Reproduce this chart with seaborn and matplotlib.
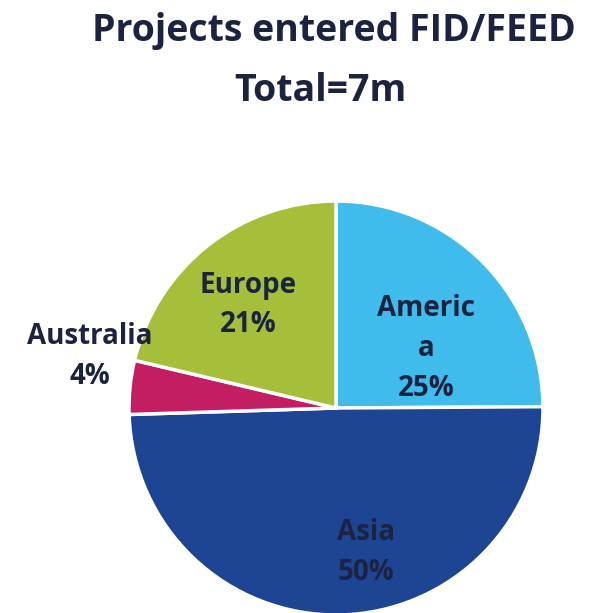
import matplotlib
matplotlib.use("Agg")
import matplotlib.pyplot as plt
import seaborn as sns

regions = ["America", "Asia", "Australia", "Europe"]
shares = [24.9, 49.6, 4.2, 21.3]
pct_labels = ["25%", "50%", "4%", "21%"]
name_labels = ["Americ\na", "Asia", "Australia", "Europe"]
colors = ["#3FBCEB", "#1E4594", "#C41E63", "#A5BF3A"]

sns.set_theme(style="white")
plt.rcParams['font.family'] = ['Open Sans', 'DejaVu Sans']

W, H = 591, 613
fig = plt.figure(figsize=(W / 100, H / 100), dpi=100)
fig.patch.set_facecolor("white")

cx, cy, r = 336, 408, 207
ax = fig.add_axes([(cx - r) / W, (H - cy - r) / H, 2 * r / W, 2 * r / H])
ax.pie(shares, colors=colors, startangle=90, counterclock=False,
       wedgeprops=dict(edgecolor="white", linewidth=2.5), radius=1)
ax.set_xlim(-1, 1)
ax.set_ylim(-1, 1)
ax.set_aspect("equal")
ax.axis("off")

navy = "#1B2340"
fig.text(334 / W, 1 - 31 / H, "Projects entered FID/FEED", ha="center", va="center",
         fontsize=27, fontweight="bold", color=navy)
fig.text(320 / W, 1 - 91 / H, "Total=7m", ha="center", va="center",
         fontsize=27, fontweight="bold", color=navy)

label_pos = {"America": (426, 348), "Asia": (366, 553), "Australia": (90, 357), "Europe": (248, 305)}
for reg, nm, pc in zip(regions, name_labels, pct_labels):
    x, y = label_pos[reg]
    fig.text(x / W, 1 - y / H, f"{nm}\n{pc}", ha="center", va="center",
             fontsize=20, fontweight="bold", color=navy, linespacing=1.5)

fig.savefig("out.png", dpi=100)
